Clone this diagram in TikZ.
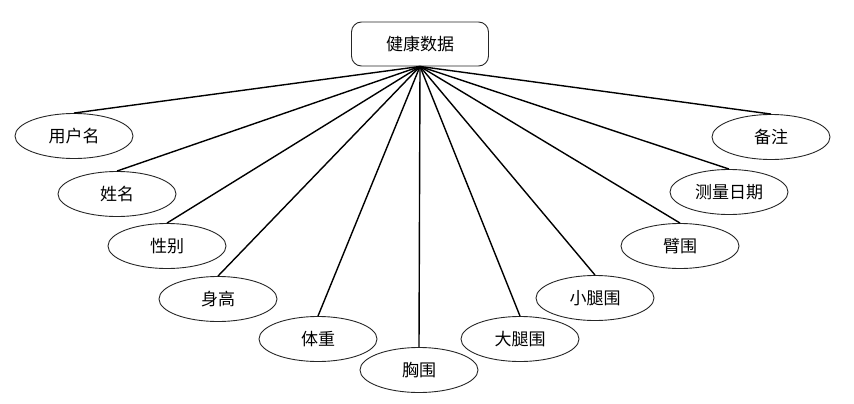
\documentclass[tikz,border=0pt]{standalone}
\usepackage{fontspec}
\newfontfamily\cjk{Noto Sans CJK SC}
\usetikzlibrary{shapes.geometric}
\begin{document}
\begin{tikzpicture}[x=1pt,y=-1pt,
  attr/.style={draw=black!85,line width=0.9pt,ellipse,minimum width=118pt,minimum height=45pt,inner sep=0pt,font=\cjk\fontsize{17}{20}\selectfont},
  entity/.style={draw=black!85,line width=0.9pt,rounded corners=10pt,minimum width=137pt,minimum height=44pt,inner sep=0pt,font=\cjk\fontsize{17}{20}\selectfont},
  link/.style={line width=1.4pt,black}]
\useasboundingbox (0,0) rectangle (854,404);
\node[entity] (root) at (420,44) {健康数据};
\node[attr] (a1) at (74,136) {用户名};
\node[attr] (a2) at (117,194) {姓名};
\node[attr] (a3) at (167,246) {性别};
\node[attr] (a4) at (218,299) {身高};
\node[attr] (a5) at (318,339) {体重};
\node[attr] (a6) at (419,370) {胸围};
\node[attr] (a7) at (520,339) {大腿围};
\node[attr] (a8) at (595,298) {小腿围};
\node[attr] (a9) at (680,246) {臂围};
\node[attr] (a10) at (729,192) {测量日期};
\node[attr] (a11) at (771,137) {备注};
\foreach \i in {1,...,11} \draw[link] (root.south) -- (a\i.north);
\end{tikzpicture}
\end{document}
